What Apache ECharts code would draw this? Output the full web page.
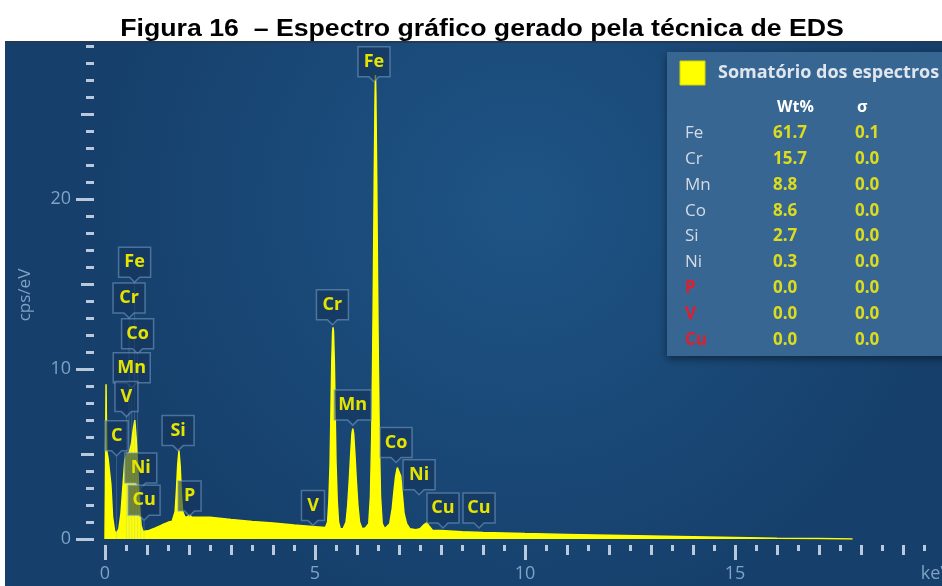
<!DOCTYPE html>
<html>
<head>
<meta charset="utf-8">
<script src="https://cdn.jsdelivr.net/npm/echarts@6/dist/echarts.min.js"></script>
<style>
  html, body { margin: 0; padding: 0; background: #ffffff; }
  #chart { width: 942px; height: 586px; }
</style>
</head>
<body>
<div id="chart"></div>
<script>
// EDS spectrum: energy (keV) and intensity (cps/eV)
const spectrumEnergy = [
  0.000, 0.010, 0.025, 0.040, 0.070, 0.110, 0.140, 0.180, 0.230, 0.280,
  0.330, 0.380, 0.430, 0.470, 0.520, 0.580, 0.630, 0.670, 0.710, 0.740,
  0.780, 0.820, 0.860, 0.900, 0.950, 1.050, 1.200, 1.350, 1.500, 1.600,
  1.670, 1.700, 1.730, 1.760, 1.790, 1.820, 1.850, 1.900, 1.960, 2.010,
  2.060, 2.500, 3.000, 3.500, 4.000, 4.500, 5.000, 5.250,
  5.300, 5.330, 5.360, 5.380, 5.400, 5.420, 5.430, 5.440, 5.460, 5.480,
  5.500, 5.530, 5.560, 5.600,
  5.670, 5.740, 5.780, 5.820, 5.850, 5.880, 5.900, 5.920, 5.950, 5.980,
  6.020, 6.060, 6.120,
  6.200, 6.280, 6.320, 6.350, 6.370, 6.390, 6.410, 6.430, 6.440, 6.450,
  6.470, 6.490, 6.510, 6.530, 6.560, 6.600, 6.660,
  6.700, 6.780, 6.840, 6.880, 6.920, 6.960, 7.000, 7.040, 7.080, 7.120,
  7.180, 7.260, 7.400, 7.500, 7.600, 7.660, 7.720, 7.800,
  8.000, 8.500, 9.000, 10.000, 11.000, 12.000, 13.000, 14.000, 15.000,
  16.000, 17.000, 17.800
];
const spectrumCounts = [
  0.00, 3.00, 9.10, 5.20, 4.80, 4.90, 3.20, 1.30, 0.45, 0.35,
  0.60, 1.50, 3.20, 4.60, 5.00, 5.10, 5.60, 6.40, 7.00, 6.00,
  4.20, 2.00, 0.80, 0.45, 0.45, 0.50, 0.65, 0.82, 0.98, 1.05,
  1.60, 2.80, 4.30, 5.20, 4.30, 2.60, 1.60, 1.30, 1.30, 1.40,
  1.30, 1.28, 1.15, 1.03, 0.94, 0.82, 0.72, 0.67,
  1.00, 2.20, 4.50, 7.50, 10.50, 12.20, 12.45, 12.20, 10.50, 7.50,
  4.50, 2.20, 1.00, 0.62,
  0.60, 1.00, 2.00, 3.60, 5.00, 6.20, 6.50, 6.20, 5.00, 3.60,
  2.00, 1.00, 0.60,
  0.65, 0.90, 2.50, 6.00, 10.00, 15.00, 21.00, 26.00, 27.30, 26.00,
  21.00, 15.00, 10.00, 6.00, 2.50, 0.90, 0.60,
  0.60, 0.90, 1.80, 2.80, 3.70, 4.20, 4.20, 3.70, 2.60, 1.50,
  0.90, 0.60, 0.55, 0.60, 0.85, 0.95, 0.75, 0.50,
  0.50, 0.42, 0.38, 0.32, 0.27, 0.22, 0.18, 0.13, 0.09,
  0.05, 0.03, 0.00
];

// Peak identification tags: element, line energy (keV), tag anchor (cps/eV)
const peakNames  = ['Fe', 'Cr', 'Co', 'Mn', 'V', 'C', 'Ni', 'Cu', 'Si', 'P', 'V', 'Cr', 'Mn', 'Fe', 'Co', 'Ni', 'Cu', 'Cu'];
const peakEnergy = [0.705, 0.573, 0.776, 0.637, 0.511, 0.277, 0.851, 0.930, 1.740, 2.013, 4.952, 5.415, 5.899, 6.404, 6.930, 7.478, 8.048, 8.905];
const peakAnchor = [15.1, 13.0, 10.9, 8.9, 7.2, 4.9, 3.0, 1.1, 5.2, 1.35, 0.8, 12.6, 6.7, 26.9, 4.5, 2.6, 0.65, 0.65];

// Quantification table
const tableTitle = 'Somatório dos espectros';
const tableElements = ['Fe', 'Cr', 'Mn', 'Co', 'Si', 'Ni', 'P', 'V', 'Cu'];
const tableWt      = ['61.7', '15.7', '8.8', '8.6', '2.7', '0.3', '0.0', '0.0', '0.0'];
const tableSigma   = ['0.1', '0.0', '0.0', '0.0', '0.0', '0.0', '0.0', '0.0', '0.0'];
const tableFlagged = [false, false, false, false, false, false, true, true, true];

// Axis labelling
const xLabelEvery = 5;
const xUnitLabel = 'keV';
const xMax = 20;
const yLabelEvery = 10;
const yMax = 30;
const yAxisTitle = 'cps/eV';
const chartTitle = 'Figura 16  \u2013 Espectro gr\u00e1fico gerado pela t\u00e9cnica de EDS';

const spectrum = spectrumEnergy.map((e, i) => [e, spectrumCounts[i]]);
const tags = peakEnergy.map((e, i) => [e, peakAnchor[i]]);

const tickColor = 'rgba(214,226,238,0.85)';
const axisTextColor = '#7fa2c5';
const uiFont = '"Open Sans", "Noto Sans", sans-serif';

const chart = echarts.init(document.getElementById('chart'), null, { renderer: 'canvas' });

// Table graphics
const tableChildren = [
  { type: 'rect', shape: { x: 0, y: 0, width: 290, height: 304 },
    style: { fill: '#386692', shadowBlur: 8, shadowColor: 'rgba(0,0,0,0.45)', shadowOffsetY: 3 } },
  { type: 'rect', shape: { x: 13, y: 9, width: 25, height: 24 },
    style: { fill: '#ffff00', stroke: '#d4d400', lineWidth: 1 } },
  { type: 'text', style: { text: tableTitle, x: 51, y: 21, verticalAlign: 'middle',
    fill: '#dfe6ee', font: 'bold 18px ' + uiFont } },
  { type: 'text', style: { text: 'Wt%', x: 110, y: 55, verticalAlign: 'middle',
    fill: '#ffffff', font: 'bold 16px ' + uiFont } },
  { type: 'text', style: { text: '\u03c3', x: 190, y: 55, verticalAlign: 'middle',
    fill: '#ffffff', font: 'bold 16px ' + uiFont } }
];
tableElements.forEach((el, i) => {
  const y = 81 + i * 25.9;
  tableChildren.push(
    { type: 'text', style: { text: el, x: 18, y: y, verticalAlign: 'middle',
      fill: tableFlagged[i] ? '#e01f2e' : '#d3dbe4', font: (tableFlagged[i] ? 'bold ' : '') + '17px ' + uiFont } },
    { type: 'text', style: { text: tableWt[i], x: 106, y: y, verticalAlign: 'middle',
      fill: '#dcdc1e', font: 'bold 17px ' + uiFont } },
    { type: 'text', style: { text: tableSigma[i], x: 188, y: y, verticalAlign: 'middle',
      fill: '#dcdc1e', font: 'bold 17px ' + uiFont } }
  );
});

const baseXAxis = {
  type: 'value', min: 0, max: xMax, position: 'bottom', offset: 6,
  axisLine: { show: false, onZero: false },
  splitLine: { show: false }
};
const baseYAxis = {
  type: 'value', min: 0, max: yMax, position: 'left', offset: 11,
  axisLine: { show: false, onZero: false },
  splitLine: { show: false }
};

const option = {
  animation: false,
  backgroundColor: '#ffffff',
  grid: { left: 105, right: -3, top: 29, bottom: 47, containLabel: false, outerBoundsMode: 'none' },
  xAxis: [
    Object.assign({}, baseXAxis, {
      interval: xLabelEvery,
      axisTick: { show: true, length: 15, lineStyle: { color: tickColor, width: 3 } },
      axisLabel: {
        show: true, margin: 20, color: axisTextColor, fontSize: 18, fontFamily: uiFont,
        formatter: v => (v === xMax ? '{u|' + xUnitLabel + '}' : String(v)),
        rich: { u: { color: axisTextColor, fontSize: 18, fontFamily: uiFont, padding: [0, 18, 0, 0] } }
      }
    }),
    Object.assign({}, baseXAxis, {
      interval: 1,
      axisLabel: { show: false },
      axisTick: { show: true, length: 10, lineStyle: { color: tickColor, width: 3 } },
      minorTick: { show: true, splitNumber: 2, length: 6, lineStyle: { color: tickColor, width: 3 } }
    })
  ],
  yAxis: [
    Object.assign({}, baseYAxis, {
      interval: yLabelEvery,
      axisTick: { show: true, length: 18, lineStyle: { color: tickColor, width: 3 } },
      axisLabel: {
        show: true, margin: 23, color: axisTextColor, fontSize: 18, fontFamily: uiFont,
        formatter: v => (v < yMax ? String(v) : '')
      }
    }),
    Object.assign({}, baseYAxis, {
      interval: 5,
      axisLabel: { show: false },
      axisTick: { show: true, length: 13, lineStyle: { color: tickColor, width: 3 } },
      minorTick: { show: true, splitNumber: 5, length: 8, lineStyle: { color: tickColor, width: 3 } }
    })
  ],
  graphic: [
    { type: 'rect', z: -1, shape: { x: 5, y: 41, width: 937, height: 545 },
      style: { fill: { type: 'radial', x: 0.55, y: 0.3, r: 0.8,
        colorStops: [{ offset: 0, color: '#1e5485' }, { offset: 1, color: '#163f6b' }] } } },
    { type: 'rect', z: 4, shape: { x: 0, y: 0, width: 942, height: 41 }, style: { fill: '#ffffff' } },
    { type: 'rect', z: 4, shape: { x: 5, y: 41, width: 937, height: 2 }, style: { fill: '#243a52' } },
    { type: 'text', z: 6, x: 482, y: 30, scaleX: 1.16,
      style: { text: chartTitle, align: 'center', verticalAlign: 'middle',
        fill: '#000000', font: 'bold 23px "Liberation Sans", Arial, sans-serif' } },
    { type: 'text', z: 3, rotation: Math.PI / 2, x: 25, y: 295,
      style: { text: yAxisTitle, align: 'center', verticalAlign: 'middle',
        fill: axisTextColor, font: '17px ' + uiFont } },
    { type: 'group', z: 3, x: 667, y: 52, children: tableChildren }
  ],
  series: [
    {
      type: 'line',
      data: spectrum,
      xAxisIndex: 0, yAxisIndex: 0,
      showSymbol: false, symbol: 'none',
      lineStyle: { color: '#ffff00', width: 1.5 },
      itemStyle: { color: '#ffff00' },
      areaStyle: { color: '#ffff00', opacity: 1 },
      z: 2,
      silent: true
    },
    {
      type: 'custom',
      data: tags,
      xAxisIndex: 0, yAxisIndex: 0,
      encode: { x: 0, y: 1 },
      z: 5,
      silent: true,
      renderItem: function (params, api) {
        const name = peakNames[params.dataIndex];
        const e = api.value(0);
        const tip = api.coord([e, api.value(1)]);
        const base = api.coord([e, 0]);
        const w = name.length > 1 ? (name === 'Mn' ? 37 : 32) : 23;
        const h = 30, notch = 5;
        const cx = tip[0], ty = tip[1];
        const b = ty - notch, t = b - h, l = cx - w / 2, r = cx + w / 2;
        const children = [];
        if (e < 1) {
          children.push({ type: 'line', shape: { x1: cx, y1: ty, x2: cx, y2: base[1] },
            style: { stroke: 'rgba(140,180,220,0.28)', lineWidth: 1 } });
        }
        children.push(
          { type: 'polygon',
            shape: { points: [[l, t], [r, t], [r, b], [cx + notch, b], [cx, ty], [cx - notch, b], [l, b]] },
            style: { fill: 'rgba(20,52,90,0.6)', stroke: 'rgba(120,160,200,0.55)', lineWidth: 1.5 } },
          { type: 'text',
            style: { text: name, x: cx, y: (t + b) / 2, align: 'center', verticalAlign: 'middle',
              fill: '#e4e400', font: 'bold 18px ' + uiFont } }
        );
        return { type: 'group', children: children };
      }
    }
  ]
};

chart.setOption(option);
</script>
</body>
</html>
